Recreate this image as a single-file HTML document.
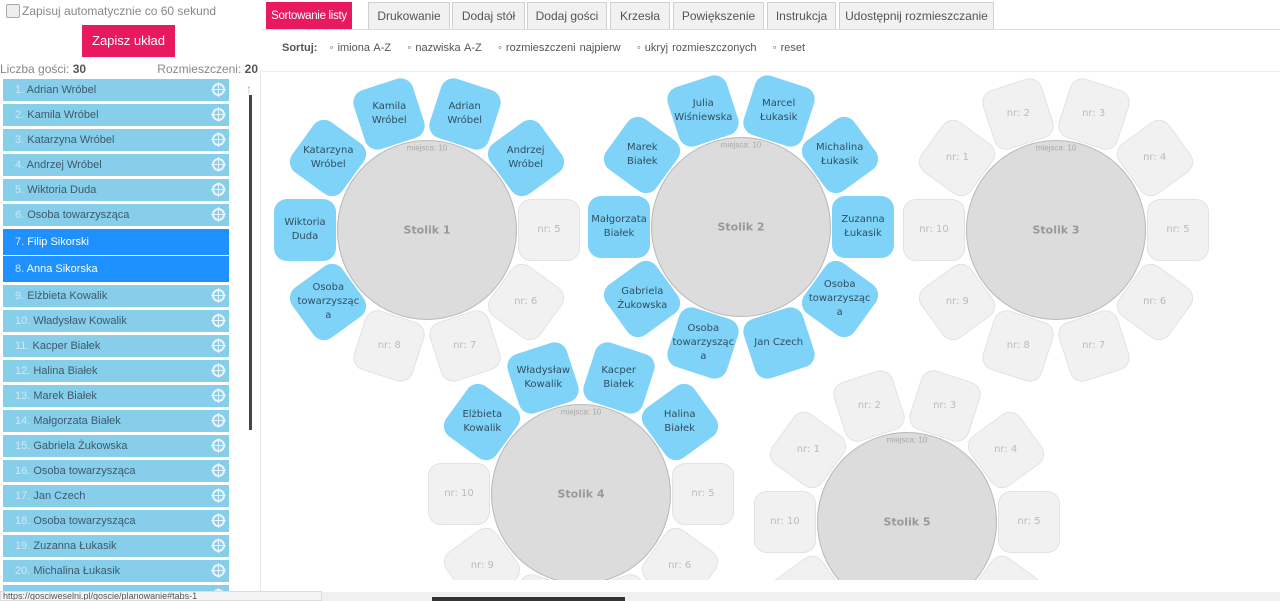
<!DOCTYPE html>
<html><head><meta charset="utf-8"><style>
*{box-sizing:border-box;margin:0;padding:0}
html,body{width:1280px;height:601px;overflow:hidden}
body{background:#fff;font-family:"Liberation Sans",sans-serif;position:relative}
.abs{position:absolute}
.row{position:absolute;left:3px;width:226px;height:22px;background:#87ceeb;color:#3d5a6b;font-size:11px;line-height:22px;padding-left:12px}
.row .n{color:#cde9f5}
.row .t{position:absolute;right:4px;top:4px;width:13px;height:13px;border:2px solid #e8f6fc;border-radius:50%}
.row .t:before{content:"";position:absolute;left:4px;top:-3px;width:1px;height:15px;background:#e8f6fc}
.row .t:after{content:"";position:absolute;top:4px;left:-3px;height:1px;width:15px;background:#e8f6fc}
.row.sel{background:#1e90ff;color:#fff}
.tab{position:absolute;top:2px;height:27px;background:#f1f1f1;border:1px solid #d0d0d0;border-bottom:none;font-size:12px;color:#555;text-align:center;line-height:27px;white-space:nowrap}
.seat{position:absolute;width:62px;height:62px;border-radius:13px}
.b{background:#7fd3f8}
.e{background:#f1f1f1;border:1px solid #e2e2e2}
.lab{position:absolute;width:80px;text-align:center;line-height:14px;color:#2f4f60;font-family:"DejaVu Sans",sans-serif;transform:translate(-50%,-50%);font-size:10px}
.lab.g{color:#bbb}
.tbl{position:absolute;width:180px;height:180px;border-radius:50%;background:#dcdcdc;border:1px solid #b8b8b8}
.tname{position:absolute;font-weight:bold;font-size:11px;color:#999;font-family:"DejaVu Sans",sans-serif;transform:translate(-50%,-50%)}
.mj{position:absolute;font-size:8px;color:#aaa;transform:translate(-50%,-50%)}
</style></head><body>
<div class="abs" style="left:6px;top:4px;width:14px;height:14px;border:1px solid #aaa;background:#eee;border-radius:2px"></div>
<div class="abs" style="left:22px;top:4px;font-size:12px;color:#888">Zapisuj automatycznie co 60 sekund</div>
<div class="abs" style="left:82px;top:25px;width:93px;height:32px;background:#e8195f;color:#fff;font-size:13px;line-height:32px;text-align:center">Zapisz układ</div>
<div class="abs" style="left:0;top:62px;font-size:12px;color:#888">Liczba gości: <b style="color:#555">30</b></div>
<div class="abs" style="right:1022px;top:62px;font-size:12px;color:#888">Rozmieszczeni: <b style="color:#555">20</b></div>
<div class="abs" style="left:246px;top:82px;font-size:12px;color:#aaa">↑</div>
<div class="abs" style="left:249px;top:95px;width:3px;height:335px;background:#444"></div>
<div class="abs" style="left:260px;top:70px;width:1px;height:531px;background:#e8e8e8"></div>
<div id="list" class="abs" style="left:0;top:0;width:240px;height:591px;overflow:hidden"></div>
<div class="tab" style="left:266px;width:86px;background:#e8195f;color:#fff;border-color:#e8195f;font-size:11.5px;letter-spacing:-0.3px">Sortowanie listy</div>
<div class="tab" style="left:368px;width:82px">Drukowanie</div>
<div class="tab" style="left:452px;width:73px">Dodaj stół</div>
<div class="tab" style="left:527px;width:80px">Dodaj gości</div>
<div class="tab" style="left:610px;width:60px">Krzesła</div>
<div class="tab" style="left:673px;width:91px">Powiększenie</div>
<div class="tab" style="left:767px;width:69px">Instrukcja</div>
<div class="tab" style="left:839px;width:155px">Udostępnij rozmieszczanie</div>
<div class="abs" style="left:262px;top:29px;width:1018px;height:1px;background:#ddd"></div>
<div class="abs" style="left:282px;top:42px;font-size:11px;color:#555;word-spacing:1px;white-space:nowrap"><b>Sortuj:</b> &nbsp;&nbsp;◦ imiona A-Z &nbsp;&nbsp; ◦ nazwiska A-Z &nbsp;&nbsp; ◦ rozmieszczeni najpierw &nbsp;&nbsp; ◦ ukryj rozmieszczonych &nbsp;&nbsp; ◦ reset</div>
<div class="abs" style="left:262px;top:71px;width:1018px;height:1px;background:#eee"></div>
<div id="canvas" class="abs" style="left:262px;top:72px;width:1018px;height:508px;overflow:hidden"></div>
<div class="abs" style="left:262px;top:592px;width:1018px;height:9px;background:#f0f0f0"></div>
<div class="abs" style="left:432px;top:597px;width:193px;height:4px;background:#333"></div>
<div class="abs" style="left:0;top:591px;width:322px;height:10px;background:#f4f4f4;border:1px solid #ddd;font-size:9px;line-height:9px;color:#555;padding-left:2px;overflow:hidden;white-space:nowrap">https://gosciweselni.pl/goscie/planowanie#tabs-1</div>
<script>
var names=["Adrian Wróbel","Kamila Wróbel","Katarzyna Wróbel","Andrzej Wróbel","Wiktoria Duda","Osoba towarzysząca","Filip Sikorski","Anna Sikorska","Elżbieta Kowalik","Władysław Kowalik","Kacper Białek","Halina Białek","Marek Białek","Małgorzata Białek","Gabriela Żukowska","Osoba towarzysząca","Jan Czech","Osoba towarzysząca","Zuzanna Łukasik","Michalina Łukasik","x"];
var ys=[79,104,129,154,179,204,229,256,285,310,335,360,385,410,435,460,485,510,535,560,585];
var h="";
names.forEach(function(n,i){var s=(i==6||i==7);
h+='<div class="row'+(s?' sel':'')+'" style="top:'+ys[i]+'px;height:'+(s?26:22)+'px;line-height:'+(s?26:22)+'px">'+(i<20?'<span class="n">'+(i+1)+'.</span> '+n:'')+(s?'':'<span class="t"></span>')+'</div>';});
document.getElementById('list').innerHTML=h;
var T=[
[427,230,"Stolik 1",{"-72":"Adrian<br>Wróbel","-108":"Kamila<br>Wróbel","-144":"Katarzyna<br>Wróbel","-36":"Andrzej<br>Wróbel","180":"Wiktoria<br>Duda","144":"Osoba<br>towarzysząc<br>a"},{0:5,36:6,72:7,108:8}],
[741,227,"Stolik 2",{"-108":"Julia<br>Wiśniewska","-72":"Marcel<br>Łukasik","-36":"Michalina<br>Łukasik","0":"Zuzanna<br>Łukasik","36":"Osoba<br>towarzysząc<br>a","72":"Jan Czech","108":"Osoba<br>towarzysząc<br>a","144":"Gabriela<br>Żukowska","180":"Małgorzata<br>Białek","-144":"Marek<br>Białek"},{}],
[1056,230,"Stolik 3",{},{"-144":1,"-108":2,"-72":3,"-36":4,0:5,36:6,72:7,108:8,144:9,180:10}],
[581,494,"Stolik 4",{"-72":"Kacper<br>Białek","-108":"Władysław<br>Kowalik","-144":"Elżbieta<br>Kowalik","-36":"Halina<br>Białek"},{0:5,36:6,72:7,108:8,144:9,180:10}],
[907,522,"Stolik 5",{},{"-144":1,"-108":2,"-72":3,"-36":4,0:5,36:6,72:7,108:8,144:9,180:10}]];
var c="",ox=262,oy=72,R=122;
T.forEach(function(t){var cx=t[0]-ox,cy=t[1]-oy;
function seat(a,txt,blue){var r=a*Math.PI/180,x=cx+R*Math.cos(r),y=cy+R*Math.sin(r);
c+='<div class="seat '+(blue?'b':'e')+'" style="left:'+(x-31)+'px;top:'+(y-31)+'px;transform:rotate('+a+'deg)"></div>';
c+='<div class="lab'+(blue?'':' g')+'" style="left:'+x+'px;top:'+y+'px">'+txt+'</div>';}
for(var k in t[3])seat(+k,t[3][k],true);
for(var k in t[4])seat(+k,'nr: '+t[4][k],false);
c+='<div class="tbl" style="left:'+(cx-90)+'px;top:'+(cy-90)+'px"></div>';
c+='<div class="mj" style="left:'+cx+'px;top:'+(cy-82)+'px">miejsca: 10</div>';
c+='<div class="tname" style="left:'+cx+'px;top:'+cy+'px">'+t[2]+'</div>';});
document.getElementById('canvas').innerHTML=c;
</script>
</body></html>
